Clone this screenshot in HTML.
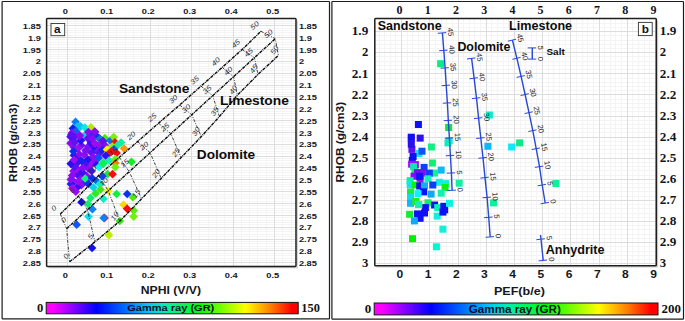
<!DOCTYPE html>
<html><head><meta charset="utf-8"><title>Crossplots</title>
<style>html,body{margin:0;padding:0;background:#fff}svg{display:block}</style></head>
<body>
<svg width="685" height="321" viewBox="0 0 685 321">
<defs>
<linearGradient id="rb" x1="0" y1="0" x2="1" y2="0"><stop offset="0" stop-color="#ff00ff"/><stop offset="0.025" stop-color="#ff00ff"/><stop offset="0.20" stop-color="#0000ff"/><stop offset="0.40" stop-color="#00c0ff"/><stop offset="0.47" stop-color="#00f0b0"/><stop offset="0.61" stop-color="#00ff00"/><stop offset="0.79" stop-color="#ffff00"/><stop offset="0.89" stop-color="#ff8000"/><stop offset="0.975" stop-color="#ff0000"/><stop offset="1" stop-color="#ff0000"/></linearGradient>
</defs>
<rect x="0" y="0" width="685" height="321" fill="#ffffff"/>
<rect x="2.1" y="1.5" width="327.4" height="317.3" rx="0.6" fill="#fff" stroke="#1c1c1c" stroke-width="1.2"/>
<rect x="331.9" y="1.5" width="351.6" height="317.7" rx="0.6" fill="#fff" stroke="#1c1c1c" stroke-width="1.2"/>
<rect x="46.6" y="18.5" width="249.4" height="247.89999999999998" fill="#ffffff"/>
<path d="M50.45 18.5V266.4M58.75 18.5V266.4M75.35 18.5V266.4M83.65 18.5V266.4M91.95 18.5V266.4M100.25 18.5V266.4M116.85 18.5V266.4M125.15 18.5V266.4M133.45 18.5V266.4M141.75 18.5V266.4M158.35 18.5V266.4M166.65 18.5V266.4M174.95 18.5V266.4M183.25 18.5V266.4M199.85 18.5V266.4M208.15 18.5V266.4M216.45 18.5V266.4M224.75 18.5V266.4M241.35 18.5V266.4M249.65 18.5V266.4M257.95 18.5V266.4M266.25 18.5V266.4M282.85 18.5V266.4M291.15 18.5V266.4M46.6 18.64H296.0M46.6 21.01H296.0M46.6 23.38H296.0M46.6 28.12H296.0M46.6 30.49H296.0M46.6 32.86H296.0M46.6 35.23H296.0M46.6 39.97H296.0M46.6 42.34H296.0M46.6 44.71H296.0M46.6 47.08H296.0M46.6 51.82H296.0M46.6 54.19H296.0M46.6 56.56H296.0M46.6 58.93H296.0M46.6 63.67H296.0M46.6 66.04H296.0M46.6 68.41H296.0M46.6 70.78H296.0M46.6 75.52H296.0M46.6 77.89H296.0M46.6 80.26H296.0M46.6 82.63H296.0M46.6 87.37H296.0M46.6 89.74H296.0M46.6 92.11H296.0M46.6 94.48H296.0M46.6 99.22H296.0M46.6 101.59H296.0M46.6 103.96H296.0M46.6 106.33H296.0M46.6 111.07H296.0M46.6 113.44H296.0M46.6 115.81H296.0M46.6 118.18H296.0M46.6 122.92H296.0M46.6 125.29H296.0M46.6 127.66H296.0M46.6 130.03H296.0M46.6 134.77H296.0M46.6 137.14H296.0M46.6 139.51H296.0M46.6 141.88H296.0M46.6 146.62H296.0M46.6 148.99H296.0M46.6 151.36H296.0M46.6 153.73H296.0M46.6 158.47H296.0M46.6 160.84H296.0M46.6 163.21H296.0M46.6 165.58H296.0M46.6 170.32H296.0M46.6 172.69H296.0M46.6 175.06H296.0M46.6 177.43H296.0M46.6 182.17H296.0M46.6 184.54H296.0M46.6 186.91H296.0M46.6 189.28H296.0M46.6 194.02H296.0M46.6 196.39H296.0M46.6 198.76H296.0M46.6 201.13H296.0M46.6 205.87H296.0M46.6 208.24H296.0M46.6 210.61H296.0M46.6 212.98H296.0M46.6 217.72H296.0M46.6 220.09H296.0M46.6 222.46H296.0M46.6 224.83H296.0M46.6 229.57H296.0M46.6 231.94H296.0M46.6 234.31H296.0M46.6 236.68H296.0M46.6 241.42H296.0M46.6 243.79H296.0M46.6 246.16H296.0M46.6 248.53H296.0M46.6 253.27H296.0M46.6 255.64H296.0M46.6 258.01H296.0M46.6 260.38H296.0M46.6 265.12H296.0" stroke="#f4f4f4" stroke-width="1" fill="none" shape-rendering="crispEdges"/>
<path d="M67.05 18.5V266.4M108.55 18.5V266.4M150.05 18.5V266.4M191.55 18.5V266.4M233.05 18.5V266.4M274.55 18.5V266.4M46.6 25.75H296.0M46.6 37.60H296.0M46.6 49.45H296.0M46.6 61.30H296.0M46.6 73.15H296.0M46.6 85.00H296.0M46.6 96.85H296.0M46.6 108.70H296.0M46.6 120.55H296.0M46.6 132.40H296.0M46.6 144.25H296.0M46.6 156.10H296.0M46.6 167.95H296.0M46.6 179.80H296.0M46.6 191.65H296.0M46.6 203.50H296.0M46.6 215.35H296.0M46.6 227.20H296.0M46.6 239.05H296.0M46.6 250.90H296.0M46.6 262.75H296.0" stroke="#dddddd" stroke-width="1" fill="none" shape-rendering="crispEdges"/>
<g>
<path d="M75.6 117.6L79.9 121.9L75.6 126.2L71.2 121.9Z" fill="#0a7ef0"/>
<path d="M77.6 121.9L81.9 126.2L77.6 130.6L73.2 126.2Z" fill="#0cc0f4"/>
<path d="M80.6 122.1L84.9 126.4L80.6 130.8L76.2 126.4Z" fill="#0cc0f4"/>
<path d="M84.9 123.2L89.2 127.6L84.9 131.9L80.6 127.6Z" fill="#0ce8e0"/>
<path d="M72.9 124.1L77.2 128.4L72.9 132.8L68.6 128.4Z" fill="#0c20f0"/>
<path d="M76.0 126.7L80.3 131.0L76.0 135.3L71.7 131.0Z" fill="#1060f0"/>
<path d="M72.5 133.2L76.8 137.6L72.5 141.9L68.2 137.6Z" fill="#0c40f0"/>
<path d="M90.9 123.0L95.2 127.3L90.9 131.7L86.6 127.3Z" fill="#b4e80c"/>
<path d="M78.0 137.7L82.3 142.0L78.0 146.3L73.7 142.0Z" fill="#0cc8f0"/>
<path d="M84.0 131.7L88.3 136.0L84.0 140.3L79.7 136.0Z" fill="#0cd0f0"/>
<path d="M86.0 145.7L90.3 150.0L86.0 154.3L81.7 150.0Z" fill="#0c60f0"/>
<path d="M76.0 155.7L80.3 160.0L76.0 164.3L71.7 160.0Z" fill="#0c90f0"/>
<path d="M90.0 155.7L94.3 160.0L90.0 164.3L85.7 160.0Z" fill="#0c30f0"/>
<path d="M82.0 165.7L86.3 170.0L82.0 174.3L77.7 170.0Z" fill="#0cf0a0"/>
<path d="M95.0 145.7L99.3 150.0L95.0 154.3L90.7 150.0Z" fill="#0c50f0"/>
<path d="M100.0 143.7L104.3 148.0L100.0 152.3L95.7 148.0Z" fill="#0c70f0"/>
<path d="M84.0 177.7L88.3 182.0L84.0 186.3L79.7 182.0Z" fill="#0c40f0"/>
<path d="M79.0 171.7L83.3 176.0L79.0 180.3L74.7 176.0Z" fill="#0cc0f0"/>
<path d="M97.8 144.3L102.2 148.7L97.8 153.0L93.5 148.7Z" fill="#7a10f0"/>
<path d="M77.5 170.5L81.9 174.8L77.5 179.2L73.2 174.8Z" fill="#4a10f0"/>
<path d="M73.8 142.7L78.1 147.1L73.8 151.4L69.4 147.1Z" fill="#8a0cf0"/>
<path d="M99.3 149.1L103.6 153.5L99.3 157.8L94.9 153.5Z" fill="#5a10f0"/>
<path d="M70.6 138.8L74.9 143.2L70.6 147.5L66.2 143.2Z" fill="#8a0cf0"/>
<path d="M94.2 156.4L98.6 160.7L94.2 165.1L89.9 160.7Z" fill="#8a0cf0"/>
<path d="M88.2 164.0L92.5 168.3L88.2 172.7L83.8 168.3Z" fill="#8a0cf0"/>
<path d="M81.3 180.9L85.7 185.3L81.3 189.6L77.0 185.3Z" fill="#8a0cf0"/>
<path d="M81.2 141.0L85.5 145.4L81.2 149.7L76.8 145.4Z" fill="#6a10f0"/>
<path d="M73.5 166.7L77.8 171.0L73.5 175.4L69.1 171.0Z" fill="#a00cf0"/>
<path d="M74.3 177.4L78.7 181.7L74.3 186.1L70.0 181.7Z" fill="#9a0cf0"/>
<path d="M70.9 179.6L75.3 184.0L70.9 188.3L66.6 184.0Z" fill="#1a20f0"/>
<path d="M94.9 127.8L99.3 132.1L94.9 136.5L90.6 132.1Z" fill="#7a10f0"/>
<path d="M77.2 183.1L81.5 187.5L77.2 191.8L72.8 187.5Z" fill="#3a10f0"/>
<path d="M70.6 132.4L74.9 136.7L70.6 141.1L66.2 136.7Z" fill="#4a10f0"/>
<path d="M91.6 166.8L96.0 171.1L91.6 175.5L87.3 171.1Z" fill="#4a10f0"/>
<path d="M88.0 155.3L92.3 159.6L88.0 164.0L83.6 159.6Z" fill="#2a10f0"/>
<path d="M77.9 154.3L82.3 158.6L77.9 163.0L73.6 158.6Z" fill="#4a10f0"/>
<path d="M93.3 142.8L97.6 147.1L93.3 151.5L88.9 147.1Z" fill="#2a10f0"/>
<path d="M86.5 171.5L90.9 175.8L86.5 180.2L82.2 175.8Z" fill="#8a0cf0"/>
<path d="M73.9 150.9L78.3 155.3L73.9 159.6L69.6 155.3Z" fill="#2a10f0"/>
<path d="M99.6 134.2L103.9 138.5L99.6 142.9L95.2 138.5Z" fill="#6a10f0"/>
<path d="M91.9 159.9L96.3 164.3L91.9 168.6L87.6 164.3Z" fill="#a00cf0"/>
<path d="M91.5 148.3L95.8 152.6L91.5 157.0L87.1 152.6Z" fill="#5a10f0"/>
<path d="M78.2 144.0L82.6 148.3L78.2 152.7L73.9 148.3Z" fill="#a00cf0"/>
<path d="M78.0 165.3L82.4 169.6L78.0 174.0L73.7 169.6Z" fill="#a00cf0"/>
<path d="M96.5 131.5L100.9 135.9L96.5 140.2L92.2 135.9Z" fill="#0c30f0"/>
<path d="M77.7 158.4L82.0 162.8L77.7 167.1L73.3 162.8Z" fill="#4a10f0"/>
<path d="M79.7 130.9L84.1 135.3L79.7 139.6L75.4 135.3Z" fill="#a00cf0"/>
<path d="M88.5 142.1L92.8 146.5L88.5 150.8L84.1 146.5Z" fill="#8a0cf0"/>
<path d="M71.9 128.6L76.3 133.0L71.9 137.3L67.6 133.0Z" fill="#9a0cf0"/>
<path d="M99.6 140.2L103.9 144.6L99.6 148.9L95.2 144.6Z" fill="#9a0cf0"/>
<path d="M81.0 136.1L85.3 140.4L81.0 144.8L76.6 140.4Z" fill="#2a10f0"/>
<path d="M86.2 176.8L90.6 181.2L86.2 185.5L81.9 181.2Z" fill="#2a10f0"/>
<path d="M74.6 137.8L78.9 142.2L74.6 146.5L70.2 142.2Z" fill="#6a10f0"/>
<path d="M96.7 160.4L101.0 164.7L96.7 169.1L92.3 164.7Z" fill="#2a10f0"/>
<path d="M79.4 149.9L83.7 154.3L79.4 158.6L75.0 154.3Z" fill="#8a0cf0"/>
<path d="M90.6 129.9L94.9 134.3L90.6 138.6L86.2 134.3Z" fill="#0c30f0"/>
<path d="M70.8 175.1L75.2 179.5L70.8 183.8L66.5 179.5Z" fill="#8a0cf0"/>
<path d="M84.4 150.4L88.7 154.8L84.4 159.1L80.0 154.8Z" fill="#8a0cf0"/>
<path d="M74.4 162.5L78.7 166.9L74.4 171.2L70.0 166.9Z" fill="#5a10f0"/>
<path d="M72.1 171.2L76.5 175.6L72.1 179.9L67.8 175.6Z" fill="#8a0cf0"/>
<path d="M75.8 187.4L80.1 191.8L75.8 196.1L71.4 191.8Z" fill="#9a0cf0"/>
<path d="M70.8 159.3L75.1 163.7L70.8 168.0L66.4 163.7Z" fill="#2a10f0"/>
<path d="M74.1 155.4L78.4 159.7L74.1 164.1L69.7 159.7Z" fill="#a00cf0"/>
<path d="M87.9 134.1L92.2 138.4L87.9 142.8L83.5 138.4Z" fill="#6a10f0"/>
<path d="M103.7 136.4L108.1 140.8L103.7 145.1L99.4 140.8Z" fill="#0c30f0"/>
<path d="M85.8 146.3L90.1 150.7L85.8 155.0L81.4 150.7Z" fill="#7a10f0"/>
<path d="M90.8 138.7L95.2 143.1L90.8 147.4L86.5 143.1Z" fill="#3a10f0"/>
<path d="M97.2 153.3L101.5 157.6L97.2 162.0L92.8 157.6Z" fill="#a00cf0"/>
<path d="M95.1 139.2L99.4 143.5L95.1 147.9L90.7 143.5Z" fill="#a00cf0"/>
<path d="M82.4 173.3L86.7 177.6L82.4 182.0L78.0 177.6Z" fill="#8a0cf0"/>
<path d="M84.9 159.7L89.3 164.0L84.9 168.4L80.6 164.0Z" fill="#4a10f0"/>
<path d="M104.8 140.8L109.1 145.2L104.8 149.5L100.4 145.2Z" fill="#8a0cf0"/>
<path d="M102.4 145.6L106.7 150.0L102.4 154.3L98.0 150.0Z" fill="#1a20f0"/>
<path d="M72.4 184.0L76.7 188.3L72.4 192.7L68.0 188.3Z" fill="#a00cf0"/>
<path d="M82.2 167.8L86.5 172.2L82.2 176.5L77.8 172.2Z" fill="#3a10f0"/>
<path d="M82.8 163.4L87.1 167.8L82.8 172.1L78.4 167.8Z" fill="#8a0cf0"/>
<path d="M81.7 156.6L86.1 161.0L81.7 165.3L77.4 161.0Z" fill="#1a20f0"/>
<path d="M74.6 132.7L78.9 137.0L74.6 141.4L70.2 137.0Z" fill="#5a10f0"/>
<path d="M91.9 134.0L96.3 138.3L91.9 142.7L87.6 138.3Z" fill="#8a0cf0"/>
<path d="M73.4 146.9L77.7 151.3L73.4 155.6L69.0 151.3Z" fill="#0c30f0"/>
<path d="M92.9 152.5L97.3 156.8L92.9 161.2L88.6 156.8Z" fill="#8a0cf0"/>
<path d="M78.4 176.9L82.7 181.3L78.4 185.6L74.0 181.3Z" fill="#9a0cf0"/>
<path d="M88.3 127.7L92.6 132.0L88.3 136.3L84.0 132.0Z" fill="#8a0cf0"/>
<path d="M94.8 127.2L99.1 131.6L94.8 135.9L90.5 131.6Z" fill="#8a0cf0"/>
<path d="M71.2 130.7L75.5 135.0L71.2 139.3L66.9 135.0Z" fill="#5a10f0"/>
<path d="M79.5 131.6L83.8 135.9L79.5 140.2L75.2 135.9Z" fill="#8a0cf0"/>
<path d="M92.2 134.2L96.5 138.5L92.2 142.8L87.9 138.5Z" fill="#8a0cf0"/>
<path d="M99.7 134.7L104.0 139.0L99.7 143.3L95.4 139.0Z" fill="#1070f0"/>
<path d="M104.9 133.8L109.2 138.2L104.9 142.5L100.6 138.2Z" fill="#40e80c"/>
<path d="M102.8 136.5L107.1 140.8L102.8 145.2L98.5 140.8Z" fill="#6a0cf0"/>
<path d="M110.3 136.2L114.6 140.6L110.3 144.9L106.0 140.6Z" fill="#0c70f0"/>
<path d="M113.7 132.8L118.0 137.1L113.7 141.4L109.4 137.1Z" fill="#78f00c"/>
<path d="M115.0 138.1L119.3 142.4L115.0 146.8L110.7 142.4Z" fill="#f80c10"/>
<path d="M121.0 138.2L125.3 142.6L121.0 146.9L116.7 142.6Z" fill="#10f0a0"/>
<path d="M117.5 141.0L121.8 145.3L117.5 149.7L113.2 145.3Z" fill="#10f0a0"/>
<path d="M124.1 144.2L128.4 148.6L124.1 152.9L119.8 148.6Z" fill="#f8980c"/>
<path d="M112.3 142.2L116.6 146.6L112.3 150.9L108.0 146.6Z" fill="#90f00c"/>
<path d="M107.0 145.2L111.3 149.6L107.0 153.9L102.7 149.6Z" fill="#f0f00c"/>
<path d="M114.0 144.8L118.3 149.2L114.0 153.5L109.7 149.2Z" fill="#0c60f0"/>
<path d="M111.4 147.1L115.8 151.4L111.4 155.8L107.1 151.4Z" fill="#f80c10"/>
<path d="M116.6 148.7L120.9 153.0L116.6 157.3L112.2 153.0Z" fill="#f80c10"/>
<path d="M109.6 148.5L113.9 152.8L109.6 157.2L105.2 152.8Z" fill="#f80c10"/>
<path d="M105.7 151.3L110.0 155.7L105.7 160.0L101.4 155.7Z" fill="#3010f0"/>
<path d="M98.7 153.6L103.0 157.9L98.7 162.2L94.4 157.9Z" fill="#0c50f0"/>
<path d="M103.5 158.0L107.8 162.3L103.5 166.7L99.2 162.3Z" fill="#0cf080"/>
<path d="M109.2 156.2L113.5 160.5L109.2 164.8L104.9 160.5Z" fill="#10f0b0"/>
<path d="M115.3 154.8L119.6 159.2L115.3 163.5L111.0 159.2Z" fill="#70f010"/>
<path d="M115.3 158.8L119.6 163.1L115.3 167.4L111.0 163.1Z" fill="#f8780c"/>
<path d="M115.3 162.8L119.6 167.2L115.3 171.5L111.0 167.2Z" fill="#70f010"/>
<path d="M99.1 162.8L103.4 167.1L99.1 171.4L94.8 167.1Z" fill="#0cf0f0"/>
<path d="M103.2 159.5L107.5 163.8L103.2 168.2L98.9 163.8Z" fill="#0cf050"/>
<path d="M131.5 157.5L135.8 161.8L131.5 166.2L127.2 161.8Z" fill="#10f020"/>
<path d="M107.5 169.8L111.8 174.1L107.5 178.4L103.2 174.1Z" fill="#10f030"/>
<path d="M112.6 169.8L116.9 174.2L112.6 178.5L108.2 174.2Z" fill="#f80c10"/>
<path d="M102.4 171.8L106.8 176.2L102.4 180.5L98.1 176.2Z" fill="#0c40f0"/>
<path d="M85.2 174.2L89.5 178.6L85.2 182.9L80.9 178.6Z" fill="#0cf080"/>
<path d="M88.3 179.6L92.6 183.9L88.3 188.2L84.0 183.9Z" fill="#0c30f0"/>
<path d="M93.5 183.1L97.8 187.4L93.5 191.8L89.2 187.4Z" fill="#0cd0f0"/>
<path d="M96.5 176.7L100.8 181.0L96.5 185.3L92.2 181.0Z" fill="#0c60f0"/>
<path d="M92.0 173.7L96.3 178.0L92.0 182.3L87.7 178.0Z" fill="#0c30f0"/>
<path d="M99.7 179.6L104.0 183.9L99.7 188.2L95.4 183.9Z" fill="#0cf0c0"/>
<path d="M95.6 189.2L99.9 193.5L95.6 197.8L91.2 193.5Z" fill="#30e820"/>
<path d="M100.5 185.2L104.8 189.5L100.5 193.8L96.2 189.5Z" fill="#40e810"/>
<path d="M90.4 193.6L94.8 197.9L90.4 202.2L86.1 197.9Z" fill="#0cf070"/>
<path d="M103.5 194.5L107.8 198.8L103.5 203.2L99.2 198.8Z" fill="#0cf0c0"/>
<path d="M108.3 186.6L112.6 190.9L108.3 195.2L104.0 190.9Z" fill="#f0f00c"/>
<path d="M116.6 189.7L120.9 194.0L116.6 198.3L112.2 194.0Z" fill="#10f040"/>
<path d="M127.2 189.7L131.6 194.0L127.2 198.3L122.9 194.0Z" fill="#0c30f8"/>
<path d="M132.8 192.8L137.2 197.2L132.8 201.5L128.5 197.2Z" fill="#50e810"/>
<path d="M81.5 197.8L85.8 202.2L81.5 206.5L77.2 202.2Z" fill="#1010e0"/>
<path d="M92.4 204.8L96.8 209.2L92.4 213.5L88.1 209.2Z" fill="#1080f8"/>
<path d="M88.0 199.7L92.3 204.0L88.0 208.3L83.7 204.0Z" fill="#10e870"/>
<path d="M123.6 200.5L127.9 204.8L123.6 209.2L119.2 204.8Z" fill="#f8d80c"/>
<path d="M127.1 204.3L131.4 208.7L127.1 213.0L122.8 208.7Z" fill="#f80c10"/>
<path d="M133.7 206.1L138.0 210.4L133.7 214.8L129.3 210.4Z" fill="#50f010"/>
<path d="M133.7 212.2L138.0 216.6L133.7 220.9L129.3 216.6Z" fill="#70f00c"/>
<path d="M119.8 216.7L124.1 221.0L119.8 225.3L115.5 221.0Z" fill="#30f010"/>
<path d="M104.6 213.6L108.9 217.9L104.6 222.2L100.2 217.9Z" fill="#f81030"/>
<path d="M103.7 213.6L108.0 217.9L103.7 222.2L99.4 217.9Z" fill="#1080f8"/>
<path d="M88.5 212.2L92.8 216.6L88.5 220.9L84.2 216.6Z" fill="#10e0f0"/>
<path d="M76.7 220.3L81.0 224.7L76.7 229.0L72.4 224.7Z" fill="#1055f8"/>
<path d="M108.9 230.8L113.2 235.1L108.9 239.4L104.6 235.1Z" fill="#b8f000"/>
<path d="M92.1 243.7L96.4 248.0L92.1 252.3L87.8 248.0Z" fill="#1010f0"/>
</g>
<path d="M60.3 214.0L78.5 196.2L98.5 175.5L119.3 157.3L137.6 141.6L158.5 123.2L179.7 105.0L201.0 86.1L222.2 67.4L242.1 49.5L261.0 31.3" fill="none" stroke="#0a0a0a" stroke-width="1.4" stroke-dasharray="3.2 0.8 1 0.8"/>
<path d="M66.6 228.7L87.5 209.7L108.3 190.7L129.2 171.7L150.1 152.7L170.9 133.7L191.8 114.7L212.7 95.7L233.6 76.7L254.4 57.7L275.3 38.7" fill="none" stroke="#0a0a0a" stroke-width="1.4" stroke-dasharray="3.2 0.8 1 0.8"/>
<path d="M69.6 261.8L94.9 241.9L119.7 221.2L141.6 198.8L161.2 178.4L181.1 157.6L201.3 136.6L219.4 116.6L237.3 95.3L258.0 74.4L278.4 55.4" fill="none" stroke="#0a0a0a" stroke-width="1.4" stroke-dasharray="3.2 0.8 1 0.8"/>
<path d="M60.3 214.0L66.6 228.7L69.6 261.8M78.5 196.2L87.5 209.7L94.9 241.9M98.5 175.5L108.3 190.7L119.7 221.2M119.3 157.3L129.2 171.7L141.6 198.8M137.6 141.6L150.1 152.7L161.2 178.4M158.5 123.2L170.9 133.7L181.1 157.6M179.7 105.0L191.8 114.7L201.3 136.6M201.0 86.1L212.7 95.7L219.4 116.6M222.2 67.4L233.6 76.7L237.3 95.3M242.1 49.5L254.4 57.7L258.0 74.4M261.0 31.3L275.3 38.7L278.4 55.4" fill="none" stroke="#111" stroke-width="0.8" stroke-dasharray="3 1.4 1 1.4"/>
<text transform="translate(53.8 208.1) rotate(-42)" font-family='"Liberation Sans", sans-serif' font-size="7.0" font-style="italic" text-anchor="middle" dominant-baseline="central" fill="#303036" textLength="4.5" lengthAdjust="spacingAndGlyphs">0</text>
<text transform="translate(63.6 220.0) rotate(-42)" font-family='"Liberation Sans", sans-serif' font-size="7.0" font-style="italic" text-anchor="middle" dominant-baseline="central" fill="#303036" textLength="4.5" lengthAdjust="spacingAndGlyphs">0</text>
<text transform="translate(66.0 256.2) rotate(-57)" font-family='"Liberation Sans", sans-serif' font-size="7.0" font-style="italic" text-anchor="middle" dominant-baseline="central" fill="#303036" textLength="4.5" lengthAdjust="spacingAndGlyphs">0</text>
<text transform="translate(72.0 190.3) rotate(-42)" font-family='"Liberation Sans", sans-serif' font-size="7.0" font-style="italic" text-anchor="middle" dominant-baseline="central" fill="#303036" textLength="4.5" lengthAdjust="spacingAndGlyphs">5</text>
<text transform="translate(83.2 201.6) rotate(-42)" font-family='"Liberation Sans", sans-serif' font-size="7.0" font-style="italic" text-anchor="middle" dominant-baseline="central" fill="#303036" textLength="4.5" lengthAdjust="spacingAndGlyphs">5</text>
<text transform="translate(90.5 236.4) rotate(-57)" font-family='"Liberation Sans", sans-serif' font-size="7.0" font-style="italic" text-anchor="middle" dominant-baseline="central" fill="#303036" textLength="4.5" lengthAdjust="spacingAndGlyphs">5</text>
<text transform="translate(92.0 169.6) rotate(-42)" font-family='"Liberation Sans", sans-serif' font-size="7.0" font-style="italic" text-anchor="middle" dominant-baseline="central" fill="#303036" textLength="9.1" lengthAdjust="spacingAndGlyphs">10</text>
<text transform="translate(103.6 181.8) rotate(-42)" font-family='"Liberation Sans", sans-serif' font-size="7.0" font-style="italic" text-anchor="middle" dominant-baseline="central" fill="#303036" textLength="9.1" lengthAdjust="spacingAndGlyphs">10</text>
<text transform="translate(114.6 216.0) rotate(-57)" font-family='"Liberation Sans", sans-serif' font-size="7.0" font-style="italic" text-anchor="middle" dominant-baseline="central" fill="#303036" textLength="9.1" lengthAdjust="spacingAndGlyphs">10</text>
<text transform="translate(112.8 151.4) rotate(-42)" font-family='"Liberation Sans", sans-serif' font-size="7.0" font-style="italic" text-anchor="middle" dominant-baseline="central" fill="#303036" textLength="9.1" lengthAdjust="spacingAndGlyphs">15</text>
<text transform="translate(124.5 163.2) rotate(-42)" font-family='"Liberation Sans", sans-serif' font-size="7.0" font-style="italic" text-anchor="middle" dominant-baseline="central" fill="#303036" textLength="9.1" lengthAdjust="spacingAndGlyphs">15</text>
<text transform="translate(136.2 193.7) rotate(-57)" font-family='"Liberation Sans", sans-serif' font-size="7.0" font-style="italic" text-anchor="middle" dominant-baseline="central" fill="#303036" textLength="9.1" lengthAdjust="spacingAndGlyphs">15</text>
<text transform="translate(131.1 135.7) rotate(-42)" font-family='"Liberation Sans", sans-serif' font-size="7.0" font-style="italic" text-anchor="middle" dominant-baseline="central" fill="#303036" textLength="9.1" lengthAdjust="spacingAndGlyphs">20</text>
<text transform="translate(144.0 145.8) rotate(-42)" font-family='"Liberation Sans", sans-serif' font-size="7.0" font-style="italic" text-anchor="middle" dominant-baseline="central" fill="#303036" textLength="9.1" lengthAdjust="spacingAndGlyphs">20</text>
<text transform="translate(155.9 173.3) rotate(-57)" font-family='"Liberation Sans", sans-serif' font-size="7.0" font-style="italic" text-anchor="middle" dominant-baseline="central" fill="#303036" textLength="9.1" lengthAdjust="spacingAndGlyphs">20</text>
<text transform="translate(152.0 117.3) rotate(-42)" font-family='"Liberation Sans", sans-serif' font-size="7.0" font-style="italic" text-anchor="middle" dominant-baseline="central" fill="#303036" textLength="9.1" lengthAdjust="spacingAndGlyphs">25</text>
<text transform="translate(164.9 127.1) rotate(-42)" font-family='"Liberation Sans", sans-serif' font-size="7.0" font-style="italic" text-anchor="middle" dominant-baseline="central" fill="#303036" textLength="9.1" lengthAdjust="spacingAndGlyphs">25</text>
<text transform="translate(175.8 152.4) rotate(-57)" font-family='"Liberation Sans", sans-serif' font-size="7.0" font-style="italic" text-anchor="middle" dominant-baseline="central" fill="#303036" textLength="9.1" lengthAdjust="spacingAndGlyphs">25</text>
<text transform="translate(173.2 99.1) rotate(-42)" font-family='"Liberation Sans", sans-serif' font-size="7.0" font-style="italic" text-anchor="middle" dominant-baseline="central" fill="#303036" textLength="9.1" lengthAdjust="spacingAndGlyphs">30</text>
<text transform="translate(186.0 108.5) rotate(-42)" font-family='"Liberation Sans", sans-serif' font-size="7.0" font-style="italic" text-anchor="middle" dominant-baseline="central" fill="#303036" textLength="9.1" lengthAdjust="spacingAndGlyphs">30</text>
<text transform="translate(196.0 131.5) rotate(-57)" font-family='"Liberation Sans", sans-serif' font-size="7.0" font-style="italic" text-anchor="middle" dominant-baseline="central" fill="#303036" textLength="9.1" lengthAdjust="spacingAndGlyphs">30</text>
<text transform="translate(194.5 80.2) rotate(-42)" font-family='"Liberation Sans", sans-serif' font-size="7.0" font-style="italic" text-anchor="middle" dominant-baseline="central" fill="#303036" textLength="9.1" lengthAdjust="spacingAndGlyphs">35</text>
<text transform="translate(207.0 89.6) rotate(-42)" font-family='"Liberation Sans", sans-serif' font-size="7.0" font-style="italic" text-anchor="middle" dominant-baseline="central" fill="#303036" textLength="9.1" lengthAdjust="spacingAndGlyphs">35</text>
<text transform="translate(214.6 111.3) rotate(-57)" font-family='"Liberation Sans", sans-serif' font-size="7.0" font-style="italic" text-anchor="middle" dominant-baseline="central" fill="#303036" textLength="9.1" lengthAdjust="spacingAndGlyphs">35</text>
<text transform="translate(215.7 61.5) rotate(-42)" font-family='"Liberation Sans", sans-serif' font-size="7.0" font-style="italic" text-anchor="middle" dominant-baseline="central" fill="#303036" textLength="9.1" lengthAdjust="spacingAndGlyphs">40</text>
<text transform="translate(228.1 70.8) rotate(-42)" font-family='"Liberation Sans", sans-serif' font-size="7.0" font-style="italic" text-anchor="middle" dominant-baseline="central" fill="#303036" textLength="9.1" lengthAdjust="spacingAndGlyphs">40</text>
<text transform="translate(233.1 89.8) rotate(-57)" font-family='"Liberation Sans", sans-serif' font-size="7.0" font-style="italic" text-anchor="middle" dominant-baseline="central" fill="#303036" textLength="9.1" lengthAdjust="spacingAndGlyphs">40</text>
<text transform="translate(235.6 43.6) rotate(-42)" font-family='"Liberation Sans", sans-serif' font-size="7.0" font-style="italic" text-anchor="middle" dominant-baseline="central" fill="#303036" textLength="9.1" lengthAdjust="spacingAndGlyphs">45</text>
<text transform="translate(248.5 52.3) rotate(-42)" font-family='"Liberation Sans", sans-serif' font-size="7.0" font-style="italic" text-anchor="middle" dominant-baseline="central" fill="#303036" textLength="9.1" lengthAdjust="spacingAndGlyphs">45</text>
<text transform="translate(253.7 68.9) rotate(-57)" font-family='"Liberation Sans", sans-serif' font-size="7.0" font-style="italic" text-anchor="middle" dominant-baseline="central" fill="#303036" textLength="9.1" lengthAdjust="spacingAndGlyphs">45</text>
<text transform="translate(254.5 25.4) rotate(-42)" font-family='"Liberation Sans", sans-serif' font-size="7.0" font-style="italic" text-anchor="middle" dominant-baseline="central" fill="#303036" textLength="9.1" lengthAdjust="spacingAndGlyphs">50</text>
<text transform="translate(268.3 33.7) rotate(-42)" font-family='"Liberation Sans", sans-serif' font-size="7.0" font-style="italic" text-anchor="middle" dominant-baseline="central" fill="#303036" textLength="9.1" lengthAdjust="spacingAndGlyphs">50</text>
<text transform="translate(274.3 49.9) rotate(-57)" font-family='"Liberation Sans", sans-serif' font-size="7.0" font-style="italic" text-anchor="middle" dominant-baseline="central" fill="#303036" textLength="9.1" lengthAdjust="spacingAndGlyphs">50</text>
<text x="118.90" y="92.50" font-family='"Liberation Sans", sans-serif' font-size="13.6" font-weight="bold" text-anchor="start" fill="#0c0c0c" textLength="70.60" lengthAdjust="spacingAndGlyphs">Sandstone</text>
<text x="219.90" y="105.10" font-family='"Liberation Sans", sans-serif' font-size="13.6" font-weight="bold" text-anchor="start" fill="#0c0c0c" textLength="69.00" lengthAdjust="spacingAndGlyphs">Limestone</text>
<text x="196.80" y="159.30" font-family='"Liberation Sans", sans-serif' font-size="13.6" font-weight="bold" text-anchor="start" fill="#0c0c0c" textLength="58.40" lengthAdjust="spacingAndGlyphs">Dolomite</text>
<path d="M297.3 20.5V267.7H48.6" fill="none" stroke="#d0d0d0" stroke-width="1.2"/>
<rect x="46.6" y="18.5" width="249.4" height="247.89999999999998" rx="0.8" fill="none" stroke="#1e1e1e" stroke-width="1.5"/>
<rect x="51" y="23.5" width="13.7" height="12.2" fill="#fff" stroke="#333" stroke-width="0.9"/>
<text x="57.30" y="32.80" font-family='"Liberation Sans", sans-serif' font-size="11.8" font-weight="bold" text-anchor="middle" fill="#111">a</text>
<text x="62.67" y="14.40" font-family='"Liberation Sans", sans-serif' font-size="8.0" font-weight="bold" text-anchor="start" fill="#16161e" textLength="5.15" lengthAdjust="spacingAndGlyphs">0</text>
<text x="62.67" y="277.90" font-family='"Liberation Sans", sans-serif' font-size="8.0" font-weight="bold" text-anchor="start" fill="#16161e" textLength="5.15" lengthAdjust="spacingAndGlyphs">0</text>
<text x="100.30" y="14.40" font-family='"Liberation Sans", sans-serif' font-size="8.0" font-weight="bold" text-anchor="start" fill="#16161e" textLength="12.90" lengthAdjust="spacingAndGlyphs">0.1</text>
<text x="100.30" y="277.90" font-family='"Liberation Sans", sans-serif' font-size="8.0" font-weight="bold" text-anchor="start" fill="#16161e" textLength="12.90" lengthAdjust="spacingAndGlyphs">0.1</text>
<text x="141.80" y="14.40" font-family='"Liberation Sans", sans-serif' font-size="8.0" font-weight="bold" text-anchor="start" fill="#16161e" textLength="12.90" lengthAdjust="spacingAndGlyphs">0.2</text>
<text x="141.80" y="277.90" font-family='"Liberation Sans", sans-serif' font-size="8.0" font-weight="bold" text-anchor="start" fill="#16161e" textLength="12.90" lengthAdjust="spacingAndGlyphs">0.2</text>
<text x="183.30" y="14.40" font-family='"Liberation Sans", sans-serif' font-size="8.0" font-weight="bold" text-anchor="start" fill="#16161e" textLength="12.90" lengthAdjust="spacingAndGlyphs">0.3</text>
<text x="183.30" y="277.90" font-family='"Liberation Sans", sans-serif' font-size="8.0" font-weight="bold" text-anchor="start" fill="#16161e" textLength="12.90" lengthAdjust="spacingAndGlyphs">0.3</text>
<text x="224.80" y="14.40" font-family='"Liberation Sans", sans-serif' font-size="8.0" font-weight="bold" text-anchor="start" fill="#16161e" textLength="12.90" lengthAdjust="spacingAndGlyphs">0.4</text>
<text x="224.80" y="277.90" font-family='"Liberation Sans", sans-serif' font-size="8.0" font-weight="bold" text-anchor="start" fill="#16161e" textLength="12.90" lengthAdjust="spacingAndGlyphs">0.4</text>
<text x="266.30" y="14.40" font-family='"Liberation Sans", sans-serif' font-size="8.0" font-weight="bold" text-anchor="start" fill="#16161e" textLength="12.90" lengthAdjust="spacingAndGlyphs">0.5</text>
<text x="266.30" y="277.90" font-family='"Liberation Sans", sans-serif' font-size="8.0" font-weight="bold" text-anchor="start" fill="#16161e" textLength="12.90" lengthAdjust="spacingAndGlyphs">0.5</text>
<text x="22.85" y="28.90" font-family='"Liberation Sans", sans-serif' font-size="8.0" font-weight="bold" text-anchor="start" fill="#16161e" textLength="18.05" lengthAdjust="spacingAndGlyphs">1.85</text>
<text x="298.90" y="28.90" font-family='"Liberation Sans", sans-serif' font-size="8.0" font-weight="bold" text-anchor="start" fill="#16161e" textLength="18.05" lengthAdjust="spacingAndGlyphs">1.85</text>
<text x="28.00" y="40.75" font-family='"Liberation Sans", sans-serif' font-size="8.0" font-weight="bold" text-anchor="start" fill="#16161e" textLength="12.90" lengthAdjust="spacingAndGlyphs">1.9</text>
<text x="298.90" y="40.75" font-family='"Liberation Sans", sans-serif' font-size="8.0" font-weight="bold" text-anchor="start" fill="#16161e" textLength="12.90" lengthAdjust="spacingAndGlyphs">1.9</text>
<text x="22.85" y="52.60" font-family='"Liberation Sans", sans-serif' font-size="8.0" font-weight="bold" text-anchor="start" fill="#16161e" textLength="18.05" lengthAdjust="spacingAndGlyphs">1.95</text>
<text x="298.90" y="52.60" font-family='"Liberation Sans", sans-serif' font-size="8.0" font-weight="bold" text-anchor="start" fill="#16161e" textLength="18.05" lengthAdjust="spacingAndGlyphs">1.95</text>
<text x="35.75" y="64.45" font-family='"Liberation Sans", sans-serif' font-size="8.0" font-weight="bold" text-anchor="start" fill="#16161e" textLength="5.15" lengthAdjust="spacingAndGlyphs">2</text>
<text x="298.90" y="64.45" font-family='"Liberation Sans", sans-serif' font-size="8.0" font-weight="bold" text-anchor="start" fill="#16161e" textLength="5.15" lengthAdjust="spacingAndGlyphs">2</text>
<text x="22.85" y="76.30" font-family='"Liberation Sans", sans-serif' font-size="8.0" font-weight="bold" text-anchor="start" fill="#16161e" textLength="18.05" lengthAdjust="spacingAndGlyphs">2.05</text>
<text x="298.90" y="76.30" font-family='"Liberation Sans", sans-serif' font-size="8.0" font-weight="bold" text-anchor="start" fill="#16161e" textLength="18.05" lengthAdjust="spacingAndGlyphs">2.05</text>
<text x="28.00" y="88.15" font-family='"Liberation Sans", sans-serif' font-size="8.0" font-weight="bold" text-anchor="start" fill="#16161e" textLength="12.90" lengthAdjust="spacingAndGlyphs">2.1</text>
<text x="298.90" y="88.15" font-family='"Liberation Sans", sans-serif' font-size="8.0" font-weight="bold" text-anchor="start" fill="#16161e" textLength="12.90" lengthAdjust="spacingAndGlyphs">2.1</text>
<text x="22.85" y="100.00" font-family='"Liberation Sans", sans-serif' font-size="8.0" font-weight="bold" text-anchor="start" fill="#16161e" textLength="18.05" lengthAdjust="spacingAndGlyphs">2.15</text>
<text x="298.90" y="100.00" font-family='"Liberation Sans", sans-serif' font-size="8.0" font-weight="bold" text-anchor="start" fill="#16161e" textLength="18.05" lengthAdjust="spacingAndGlyphs">2.15</text>
<text x="28.00" y="111.85" font-family='"Liberation Sans", sans-serif' font-size="8.0" font-weight="bold" text-anchor="start" fill="#16161e" textLength="12.90" lengthAdjust="spacingAndGlyphs">2.2</text>
<text x="298.90" y="111.85" font-family='"Liberation Sans", sans-serif' font-size="8.0" font-weight="bold" text-anchor="start" fill="#16161e" textLength="12.90" lengthAdjust="spacingAndGlyphs">2.2</text>
<text x="22.85" y="123.70" font-family='"Liberation Sans", sans-serif' font-size="8.0" font-weight="bold" text-anchor="start" fill="#16161e" textLength="18.05" lengthAdjust="spacingAndGlyphs">2.25</text>
<text x="298.90" y="123.70" font-family='"Liberation Sans", sans-serif' font-size="8.0" font-weight="bold" text-anchor="start" fill="#16161e" textLength="18.05" lengthAdjust="spacingAndGlyphs">2.25</text>
<text x="28.00" y="135.55" font-family='"Liberation Sans", sans-serif' font-size="8.0" font-weight="bold" text-anchor="start" fill="#16161e" textLength="12.90" lengthAdjust="spacingAndGlyphs">2.3</text>
<text x="298.90" y="135.55" font-family='"Liberation Sans", sans-serif' font-size="8.0" font-weight="bold" text-anchor="start" fill="#16161e" textLength="12.90" lengthAdjust="spacingAndGlyphs">2.3</text>
<text x="22.85" y="147.40" font-family='"Liberation Sans", sans-serif' font-size="8.0" font-weight="bold" text-anchor="start" fill="#16161e" textLength="18.05" lengthAdjust="spacingAndGlyphs">2.35</text>
<text x="298.90" y="147.40" font-family='"Liberation Sans", sans-serif' font-size="8.0" font-weight="bold" text-anchor="start" fill="#16161e" textLength="18.05" lengthAdjust="spacingAndGlyphs">2.35</text>
<text x="28.00" y="159.25" font-family='"Liberation Sans", sans-serif' font-size="8.0" font-weight="bold" text-anchor="start" fill="#16161e" textLength="12.90" lengthAdjust="spacingAndGlyphs">2.4</text>
<text x="298.90" y="159.25" font-family='"Liberation Sans", sans-serif' font-size="8.0" font-weight="bold" text-anchor="start" fill="#16161e" textLength="12.90" lengthAdjust="spacingAndGlyphs">2.4</text>
<text x="22.85" y="171.10" font-family='"Liberation Sans", sans-serif' font-size="8.0" font-weight="bold" text-anchor="start" fill="#16161e" textLength="18.05" lengthAdjust="spacingAndGlyphs">2.45</text>
<text x="298.90" y="171.10" font-family='"Liberation Sans", sans-serif' font-size="8.0" font-weight="bold" text-anchor="start" fill="#16161e" textLength="18.05" lengthAdjust="spacingAndGlyphs">2.45</text>
<text x="28.00" y="182.95" font-family='"Liberation Sans", sans-serif' font-size="8.0" font-weight="bold" text-anchor="start" fill="#16161e" textLength="12.90" lengthAdjust="spacingAndGlyphs">2.5</text>
<text x="298.90" y="182.95" font-family='"Liberation Sans", sans-serif' font-size="8.0" font-weight="bold" text-anchor="start" fill="#16161e" textLength="12.90" lengthAdjust="spacingAndGlyphs">2.5</text>
<text x="22.85" y="194.80" font-family='"Liberation Sans", sans-serif' font-size="8.0" font-weight="bold" text-anchor="start" fill="#16161e" textLength="18.05" lengthAdjust="spacingAndGlyphs">2.55</text>
<text x="298.90" y="194.80" font-family='"Liberation Sans", sans-serif' font-size="8.0" font-weight="bold" text-anchor="start" fill="#16161e" textLength="18.05" lengthAdjust="spacingAndGlyphs">2.55</text>
<text x="28.00" y="206.65" font-family='"Liberation Sans", sans-serif' font-size="8.0" font-weight="bold" text-anchor="start" fill="#16161e" textLength="12.90" lengthAdjust="spacingAndGlyphs">2.6</text>
<text x="298.90" y="206.65" font-family='"Liberation Sans", sans-serif' font-size="8.0" font-weight="bold" text-anchor="start" fill="#16161e" textLength="12.90" lengthAdjust="spacingAndGlyphs">2.6</text>
<text x="22.85" y="218.50" font-family='"Liberation Sans", sans-serif' font-size="8.0" font-weight="bold" text-anchor="start" fill="#16161e" textLength="18.05" lengthAdjust="spacingAndGlyphs">2.65</text>
<text x="298.90" y="218.50" font-family='"Liberation Sans", sans-serif' font-size="8.0" font-weight="bold" text-anchor="start" fill="#16161e" textLength="18.05" lengthAdjust="spacingAndGlyphs">2.65</text>
<text x="28.00" y="230.35" font-family='"Liberation Sans", sans-serif' font-size="8.0" font-weight="bold" text-anchor="start" fill="#16161e" textLength="12.90" lengthAdjust="spacingAndGlyphs">2.7</text>
<text x="298.90" y="230.35" font-family='"Liberation Sans", sans-serif' font-size="8.0" font-weight="bold" text-anchor="start" fill="#16161e" textLength="12.90" lengthAdjust="spacingAndGlyphs">2.7</text>
<text x="22.85" y="242.20" font-family='"Liberation Sans", sans-serif' font-size="8.0" font-weight="bold" text-anchor="start" fill="#16161e" textLength="18.05" lengthAdjust="spacingAndGlyphs">2.75</text>
<text x="298.90" y="242.20" font-family='"Liberation Sans", sans-serif' font-size="8.0" font-weight="bold" text-anchor="start" fill="#16161e" textLength="18.05" lengthAdjust="spacingAndGlyphs">2.75</text>
<text x="28.00" y="254.05" font-family='"Liberation Sans", sans-serif' font-size="8.0" font-weight="bold" text-anchor="start" fill="#16161e" textLength="12.90" lengthAdjust="spacingAndGlyphs">2.8</text>
<text x="298.90" y="254.05" font-family='"Liberation Sans", sans-serif' font-size="8.0" font-weight="bold" text-anchor="start" fill="#16161e" textLength="12.90" lengthAdjust="spacingAndGlyphs">2.8</text>
<text x="22.85" y="265.90" font-family='"Liberation Sans", sans-serif' font-size="8.0" font-weight="bold" text-anchor="start" fill="#16161e" textLength="18.05" lengthAdjust="spacingAndGlyphs">2.85</text>
<text x="298.90" y="265.90" font-family='"Liberation Sans", sans-serif' font-size="8.0" font-weight="bold" text-anchor="start" fill="#16161e" textLength="18.05" lengthAdjust="spacingAndGlyphs">2.85</text>
<text transform="translate(16.8 142.8) rotate(-90)" font-family='"Liberation Sans", sans-serif' font-size="10.4" font-weight="bold" text-anchor="middle" fill="#16161e" textLength="78.2" lengthAdjust="spacingAndGlyphs">RHOB (g/cm3)</text>
<text x="140.70" y="293.90" font-family='"Liberation Sans", sans-serif' font-size="10.5" font-weight="bold" text-anchor="start" fill="#16161e" textLength="60.30" lengthAdjust="spacingAndGlyphs">NPHI (V/V)</text>
<rect x="46.2" y="302.4" width="252" height="11.4" fill="url(#rb)" stroke="#151515" stroke-width="1"/>
<text x="127.30" y="311.40" font-family='"Liberation Sans", sans-serif' font-size="9.8" font-weight="bold" text-anchor="start" fill="#0a0a2a" textLength="87.00" lengthAdjust="spacingAndGlyphs">Gamma ray (GR)</text>
<text x="37.10" y="311.60" font-family='"Liberation Serif", serif' font-size="11.5" font-weight="bold" text-anchor="start" fill="#111" textLength="6.30" lengthAdjust="spacingAndGlyphs">0</text>
<text x="301.30" y="311.60" font-family='"Liberation Serif", serif' font-size="11.5" font-weight="bold" text-anchor="start" fill="#111" textLength="18.60" lengthAdjust="spacingAndGlyphs">150</text>
<rect x="374.8" y="18.5" width="281.49999999999994" height="247.2" fill="#ffffff"/>
<path d="M379.04 18.5V265.7M384.68 18.5V265.7M390.32 18.5V265.7M395.96 18.5V265.7M407.24 18.5V265.7M412.88 18.5V265.7M418.52 18.5V265.7M424.16 18.5V265.7M435.44 18.5V265.7M441.08 18.5V265.7M446.72 18.5V265.7M452.36 18.5V265.7M463.64 18.5V265.7M469.28 18.5V265.7M474.92 18.5V265.7M480.56 18.5V265.7M491.84 18.5V265.7M497.48 18.5V265.7M503.12 18.5V265.7M508.76 18.5V265.7M520.04 18.5V265.7M525.68 18.5V265.7M531.32 18.5V265.7M536.96 18.5V265.7M548.24 18.5V265.7M553.88 18.5V265.7M559.52 18.5V265.7M565.16 18.5V265.7M576.44 18.5V265.7M582.08 18.5V265.7M587.72 18.5V265.7M593.36 18.5V265.7M604.64 18.5V265.7M610.28 18.5V265.7M615.92 18.5V265.7M621.56 18.5V265.7M632.84 18.5V265.7M638.48 18.5V265.7M644.12 18.5V265.7M649.76 18.5V265.7M374.8 18.94H656.3M374.8 23.16H656.3M374.8 27.38H656.3M374.8 35.82H656.3M374.8 40.04H656.3M374.8 44.26H656.3M374.8 48.48H656.3M374.8 56.92H656.3M374.8 61.14H656.3M374.8 65.36H656.3M374.8 69.58H656.3M374.8 78.02H656.3M374.8 82.24H656.3M374.8 86.46H656.3M374.8 90.68H656.3M374.8 99.12H656.3M374.8 103.34H656.3M374.8 107.56H656.3M374.8 111.78H656.3M374.8 120.22H656.3M374.8 124.44H656.3M374.8 128.66H656.3M374.8 132.88H656.3M374.8 141.32H656.3M374.8 145.54H656.3M374.8 149.76H656.3M374.8 153.98H656.3M374.8 162.42H656.3M374.8 166.64H656.3M374.8 170.86H656.3M374.8 175.08H656.3M374.8 183.52H656.3M374.8 187.74H656.3M374.8 191.96H656.3M374.8 196.18H656.3M374.8 204.62H656.3M374.8 208.84H656.3M374.8 213.06H656.3M374.8 217.28H656.3M374.8 225.72H656.3M374.8 229.94H656.3M374.8 234.16H656.3M374.8 238.38H656.3M374.8 246.82H656.3M374.8 251.04H656.3M374.8 255.26H656.3M374.8 259.48H656.3" stroke="#f4f4f4" stroke-width="1" fill="none" shape-rendering="crispEdges"/>
<path d="M401.60 18.5V265.7M429.80 18.5V265.7M458.00 18.5V265.7M486.20 18.5V265.7M514.40 18.5V265.7M542.60 18.5V265.7M570.80 18.5V265.7M599.00 18.5V265.7M627.20 18.5V265.7M655.40 18.5V265.7M374.8 31.60H656.3M374.8 52.70H656.3M374.8 73.80H656.3M374.8 94.90H656.3M374.8 116.00H656.3M374.8 137.10H656.3M374.8 158.20H656.3M374.8 179.30H656.3M374.8 200.40H656.3M374.8 221.50H656.3M374.8 242.60H656.3M374.8 263.70H656.3" stroke="#dddddd" stroke-width="1" fill="none" shape-rendering="crispEdges"/>
<g>
<rect x="437.1" y="60.2" width="7" height="7" fill="#10e888"/>
<rect x="414.9" y="121.0" width="7" height="7" fill="#1010f8"/>
<rect x="445.1" y="124.0" width="7" height="7" fill="#10e840"/>
<rect x="485.9" y="111.5" width="7" height="7" fill="#10e8c8"/>
<rect x="484.4" y="142.8" width="7" height="7" fill="#10b8f8"/>
<rect x="508.1" y="143.5" width="7" height="7" fill="#10e8f8"/>
<rect x="516.1" y="139.4" width="7" height="7" fill="#10e888"/>
<rect x="552.5" y="180.0" width="7" height="7" fill="#10f098"/>
<rect x="490.0" y="199.4" width="7" height="7" fill="#10f098"/>
<rect x="455.7" y="179.7" width="7" height="7" fill="#10f0a0"/>
<rect x="409.0" y="235.2" width="7" height="7" fill="#00f000"/>
<rect x="432.9" y="243.3" width="7" height="7" fill="#00f8d0"/>
<rect x="439.4" y="225.7" width="7" height="7" fill="#10f0e0"/>
<rect x="407.8" y="134.9" width="7" height="7" fill="#a010f0"/>
<rect x="407.8" y="133.7" width="7" height="7" fill="#1010f0"/>
<rect x="416.7" y="134.6" width="7" height="7" fill="#3010f0"/>
<rect x="408.4" y="145.9" width="7" height="7" fill="#6010f0"/>
<rect x="407.8" y="140.7" width="7" height="7" fill="#2a10f0"/>
<rect x="415.5" y="150.0" width="7" height="7" fill="#10e8f0"/>
<rect x="418.5" y="147.7" width="7" height="7" fill="#1050f8"/>
<rect x="427.9" y="143.5" width="7" height="7" fill="#10f080"/>
<rect x="445.7" y="137.0" width="7" height="7" fill="#10f0e0"/>
<rect x="444.5" y="139.4" width="7" height="7" fill="#10e8c0"/>
<rect x="409.6" y="153.0" width="7" height="7" fill="#1010f0"/>
<rect x="428.9" y="159.5" width="7" height="7" fill="#10f070"/>
<rect x="411.4" y="167.4" width="7" height="7" fill="#10f060"/>
<rect x="408.8" y="156.9" width="7" height="7" fill="#0c10f0"/>
<rect x="408.1" y="160.7" width="7" height="7" fill="#a010f0"/>
<rect x="411.9" y="161.1" width="7" height="7" fill="#a010f0"/>
<rect x="410.1" y="163.1" width="7" height="7" fill="#10e8b0"/>
<rect x="420.6" y="163.9" width="7" height="7" fill="#0c40f8"/>
<rect x="437.7" y="166.6" width="7" height="7" fill="#0cb8f8"/>
<rect x="431.1" y="169.6" width="7" height="7" fill="#10f090"/>
<rect x="425.8" y="169.6" width="7" height="7" fill="#0c40f8"/>
<rect x="416.6" y="172.3" width="7" height="7" fill="#1010f8"/>
<rect x="410.5" y="172.7" width="7" height="7" fill="#8010f0"/>
<rect x="418.9" y="169.7" width="7" height="7" fill="#8010f0"/>
<rect x="414.0" y="169.1" width="7" height="7" fill="#7010f0"/>
<rect x="416.6" y="177.5" width="7" height="7" fill="#9010f0"/>
<rect x="416.1" y="172.9" width="7" height="7" fill="#1010f8"/>
<rect x="424.5" y="175.3" width="7" height="7" fill="#10f0c0"/>
<rect x="435.9" y="178.8" width="7" height="7" fill="#10f0e0"/>
<rect x="442.0" y="180.1" width="7" height="7" fill="#10f0e0"/>
<rect x="406.6" y="177.1" width="7" height="7" fill="#10f0a0"/>
<rect x="406.6" y="181.1" width="7" height="7" fill="#10e8f0"/>
<rect x="411.8" y="181.5" width="7" height="7" fill="#10f010"/>
<rect x="416.2" y="182.5" width="7" height="7" fill="#2010f0"/>
<rect x="421.0" y="182.3" width="7" height="7" fill="#10b0f8"/>
<rect x="429.3" y="181.5" width="7" height="7" fill="#0c40f8"/>
<rect x="441.6" y="184.0" width="7" height="7" fill="#10f010"/>
<rect x="407.0" y="188.4" width="7" height="7" fill="#10f040"/>
<rect x="420.1" y="188.4" width="7" height="7" fill="#0c10f8"/>
<rect x="414.5" y="190.1" width="7" height="7" fill="#10f0f8"/>
<rect x="427.6" y="190.6" width="7" height="7" fill="#10a8f8"/>
<rect x="437.7" y="189.7" width="7" height="7" fill="#10f0b0"/>
<rect x="407.0" y="194.1" width="7" height="7" fill="#10d8f8"/>
<rect x="407.0" y="199.8" width="7" height="7" fill="#10b8f8"/>
<rect x="412.3" y="198.0" width="7" height="7" fill="#20f020"/>
<rect x="424.5" y="199.3" width="7" height="7" fill="#10f060"/>
<rect x="421.9" y="204.1" width="7" height="7" fill="#1010f8"/>
<rect x="431.1" y="201.5" width="7" height="7" fill="#1010f8"/>
<rect x="434.2" y="204.1" width="7" height="7" fill="#10f0b0"/>
<rect x="440.3" y="202.8" width="7" height="7" fill="#1010f8"/>
<rect x="441.2" y="206.3" width="7" height="7" fill="#1010f8"/>
<rect x="446.0" y="199.8" width="7" height="7" fill="#10f0e0"/>
<rect x="415.3" y="201.1" width="7" height="7" fill="#a0f010"/>
<rect x="415.1" y="201.1" width="7" height="7" fill="#10f0c0"/>
<rect x="414.0" y="210.4" width="7" height="7" fill="#1010f8"/>
<rect x="421.0" y="209.5" width="7" height="7" fill="#1010f8"/>
<rect x="416.6" y="214.8" width="7" height="7" fill="#1010f8"/>
<rect x="406.1" y="210.8" width="7" height="7" fill="#10f030"/>
<rect x="410.9" y="217.4" width="7" height="7" fill="#10a8f8"/>
<rect x="433.7" y="212.6" width="7" height="7" fill="#10f0e0"/>
<rect x="439.4" y="208.6" width="7" height="7" fill="#1010f8"/>
</g>
<path d="M442.4 32.9L443.8 50.4L445.1 67.9L446.2 85.4L447.4 103.0L448.3 120.4L449.4 138.0L450.4 155.5L451.4 173.0L452.1 190.3" fill="none" stroke="#2748d6" stroke-width="1.4"/>
<text transform="translate(450.4 32.0) rotate(85)" font-family='"Liberation Sans", sans-serif' font-size="7.6" text-anchor="middle" dominant-baseline="central" fill="#26262c">45</text>
<text transform="translate(451.8 49.5) rotate(86)" font-family='"Liberation Sans", sans-serif' font-size="7.6" text-anchor="middle" dominant-baseline="central" fill="#26262c">40</text>
<text transform="translate(453.1 67.1) rotate(86)" font-family='"Liberation Sans", sans-serif' font-size="7.6" text-anchor="middle" dominant-baseline="central" fill="#26262c">35</text>
<text transform="translate(454.2 84.6) rotate(86)" font-family='"Liberation Sans", sans-serif' font-size="7.6" text-anchor="middle" dominant-baseline="central" fill="#26262c">30</text>
<text transform="translate(455.4 102.3) rotate(87)" font-family='"Liberation Sans", sans-serif' font-size="7.6" text-anchor="middle" dominant-baseline="central" fill="#26262c">25</text>
<text transform="translate(456.3 119.6) rotate(86)" font-family='"Liberation Sans", sans-serif' font-size="7.6" text-anchor="middle" dominant-baseline="central" fill="#26262c">20</text>
<text transform="translate(457.4 137.2) rotate(87)" font-family='"Liberation Sans", sans-serif' font-size="7.6" text-anchor="middle" dominant-baseline="central" fill="#26262c">15</text>
<text transform="translate(458.4 154.7) rotate(87)" font-family='"Liberation Sans", sans-serif' font-size="7.6" text-anchor="middle" dominant-baseline="central" fill="#26262c">10</text>
<text transform="translate(459.4 172.4) rotate(88)" font-family='"Liberation Sans", sans-serif' font-size="7.6" text-anchor="middle" dominant-baseline="central" fill="#26262c">5</text>
<text transform="translate(460.1 189.7) rotate(88)" font-family='"Liberation Sans", sans-serif' font-size="7.6" text-anchor="middle" dominant-baseline="central" fill="#26262c">0</text>
<path d="M437.8 33.3L446.2 32.6M439.2 50.7L447.6 50.1M440.5 68.2L448.9 67.7M441.6 85.7L450.0 85.1M442.8 103.2L451.2 102.8M443.7 120.7L452.1 120.2M444.8 138.3L453.2 137.8M445.8 155.8L454.2 155.3M446.8 173.2L455.2 172.8M447.5 190.5L455.9 190.1" fill="none" stroke="#2748d6" stroke-width="1"/>
<path d="M471.6 58.4L474.1 78.2L476.5 98.1L478.6 118.1L480.8 138.0L483.0 157.8L485.0 177.6L487.1 197.4L488.7 217.3L490.2 236.9" fill="none" stroke="#2748d6" stroke-width="1.4"/>
<text transform="translate(479.5 57.1) rotate(83)" font-family='"Liberation Sans", sans-serif' font-size="7.6" text-anchor="middle" dominant-baseline="central" fill="#26262c">45</text>
<text transform="translate(482.0 76.9) rotate(83)" font-family='"Liberation Sans", sans-serif' font-size="7.6" text-anchor="middle" dominant-baseline="central" fill="#26262c">40</text>
<text transform="translate(484.5 97.0) rotate(84)" font-family='"Liberation Sans", sans-serif' font-size="7.6" text-anchor="middle" dominant-baseline="central" fill="#26262c">35</text>
<text transform="translate(486.6 116.9) rotate(84)" font-family='"Liberation Sans", sans-serif' font-size="7.6" text-anchor="middle" dominant-baseline="central" fill="#26262c">30</text>
<text transform="translate(488.8 136.8) rotate(84)" font-family='"Liberation Sans", sans-serif' font-size="7.6" text-anchor="middle" dominant-baseline="central" fill="#26262c">25</text>
<text transform="translate(491.0 156.7) rotate(84)" font-family='"Liberation Sans", sans-serif' font-size="7.6" text-anchor="middle" dominant-baseline="central" fill="#26262c">20</text>
<text transform="translate(493.0 176.5) rotate(84)" font-family='"Liberation Sans", sans-serif' font-size="7.6" text-anchor="middle" dominant-baseline="central" fill="#26262c">15</text>
<text transform="translate(495.1 196.5) rotate(85)" font-family='"Liberation Sans", sans-serif' font-size="7.6" text-anchor="middle" dominant-baseline="central" fill="#26262c">10</text>
<text transform="translate(496.7 216.4) rotate(86)" font-family='"Liberation Sans", sans-serif' font-size="7.6" text-anchor="middle" dominant-baseline="central" fill="#26262c">5</text>
<text transform="translate(498.2 236.0) rotate(86)" font-family='"Liberation Sans", sans-serif' font-size="7.6" text-anchor="middle" dominant-baseline="central" fill="#26262c">0</text>
<path d="M467.0 59.0L475.4 57.9M469.5 78.8L477.9 77.7M471.9 98.6L480.3 97.7M474.0 118.6L482.4 117.7M476.2 138.5L484.6 137.6M478.4 158.3L486.8 157.4M480.4 178.1L488.8 177.2M482.5 197.8L490.9 197.1M484.1 217.7L492.5 217.0M485.6 237.3L494.0 236.6" fill="none" stroke="#2748d6" stroke-width="1"/>
<path d="M512.4 40.1L516.9 58.3L521.1 76.4L525.1 94.5L529.0 112.6L532.8 130.6L536.2 148.7L539.5 166.7L542.2 185.0L545.2 203.0" fill="none" stroke="#2748d6" stroke-width="1.4"/>
<text transform="translate(520.2 37.9) rotate(76)" font-family='"Liberation Sans", sans-serif' font-size="7.6" text-anchor="middle" dominant-baseline="central" fill="#26262c">45</text>
<text transform="translate(524.7 56.2) rotate(77)" font-family='"Liberation Sans", sans-serif' font-size="7.6" text-anchor="middle" dominant-baseline="central" fill="#26262c">40</text>
<text transform="translate(528.9 74.4) rotate(78)" font-family='"Liberation Sans", sans-serif' font-size="7.6" text-anchor="middle" dominant-baseline="central" fill="#26262c">35</text>
<text transform="translate(532.9 92.5) rotate(78)" font-family='"Liberation Sans", sans-serif' font-size="7.6" text-anchor="middle" dominant-baseline="central" fill="#26262c">30</text>
<text transform="translate(536.8 110.6) rotate(78)" font-family='"Liberation Sans", sans-serif' font-size="7.6" text-anchor="middle" dominant-baseline="central" fill="#26262c">25</text>
<text transform="translate(540.7 128.8) rotate(79)" font-family='"Liberation Sans", sans-serif' font-size="7.6" text-anchor="middle" dominant-baseline="central" fill="#26262c">20</text>
<text transform="translate(544.1 147.0) rotate(80)" font-family='"Liberation Sans", sans-serif' font-size="7.6" text-anchor="middle" dominant-baseline="central" fill="#26262c">15</text>
<text transform="translate(547.4 165.2) rotate(82)" font-family='"Liberation Sans", sans-serif' font-size="7.6" text-anchor="middle" dominant-baseline="central" fill="#26262c">10</text>
<text transform="translate(550.1 183.4) rotate(81)" font-family='"Liberation Sans", sans-serif' font-size="7.6" text-anchor="middle" dominant-baseline="central" fill="#26262c">5</text>
<text transform="translate(553.1 201.4) rotate(81)" font-family='"Liberation Sans", sans-serif' font-size="7.6" text-anchor="middle" dominant-baseline="central" fill="#26262c">0</text>
<path d="M507.9 41.2L516.1 39.2M512.4 59.3L520.6 57.4M516.6 77.4L524.8 75.6M520.6 95.5L528.8 93.7M524.5 113.6L532.7 111.8M528.3 131.5L536.5 129.9M531.7 149.5L539.9 148.0M534.9 167.4L543.2 166.1M537.6 185.8L545.9 184.4M540.6 203.8L548.9 202.4" fill="none" stroke="#2748d6" stroke-width="1"/>
<path d="M532.3 47.9L532.3 59.1" fill="none" stroke="#2748d6" stroke-width="1.4"/>
<text transform="translate(540.3 47.6) rotate(90)" font-family='"Liberation Sans", sans-serif' font-size="7.6" text-anchor="middle" dominant-baseline="central" fill="#26262c">5</text>
<text transform="translate(540.3 58.8) rotate(90)" font-family='"Liberation Sans", sans-serif' font-size="7.6" text-anchor="middle" dominant-baseline="central" fill="#26262c">0</text>
<path d="M527.7 47.9L536.1 47.9M527.7 59.1L536.1 59.1" fill="none" stroke="#2748d6" stroke-width="1"/>
<path d="M540.5 235L541 239.2" stroke="#2748d6" stroke-width="1.4"/>
<path d="M541.0 239.2L543.2 260.4" fill="none" stroke="#2748d6" stroke-width="1.4"/>
<text transform="translate(549.2 238.1) rotate(84)" font-family='"Liberation Sans", sans-serif' font-size="7.6" text-anchor="middle" dominant-baseline="central" fill="#26262c">5</text>
<text transform="translate(551.4 259.3) rotate(84)" font-family='"Liberation Sans", sans-serif' font-size="7.6" text-anchor="middle" dominant-baseline="central" fill="#26262c">0</text>
<path d="M536.4 239.7L544.8 238.8M538.6 260.9L547.0 260.0" fill="none" stroke="#2748d6" stroke-width="1"/>
<text x="377.80" y="29.50" font-family='"Liberation Sans", sans-serif' font-size="12.4" font-weight="bold" text-anchor="start" fill="#0c0c0c" textLength="63.80" lengthAdjust="spacingAndGlyphs">Sandstone</text>
<text x="509.10" y="30.00" font-family='"Liberation Sans", sans-serif' font-size="12.4" font-weight="bold" text-anchor="start" fill="#0c0c0c" textLength="63.00" lengthAdjust="spacingAndGlyphs">Limestone</text>
<text x="457.40" y="50.60" font-family='"Liberation Sans", sans-serif' font-size="12.4" font-weight="bold" text-anchor="start" fill="#0c0c0c" textLength="53.00" lengthAdjust="spacingAndGlyphs">Dolomite</text>
<text x="546.50" y="55.10" font-family='"Liberation Sans", sans-serif' font-size="9.6" font-weight="bold" text-anchor="start" fill="#0c0c0c" textLength="18.20" lengthAdjust="spacingAndGlyphs">Salt</text>
<text x="545.70" y="253.70" font-family='"Liberation Sans", sans-serif' font-size="12.4" font-weight="bold" text-anchor="start" fill="#0c0c0c" textLength="58.80" lengthAdjust="spacingAndGlyphs">Anhydrite</text>
<path d="M657.5999999999999 20.5V267.0H376.8" fill="none" stroke="#d0d0d0" stroke-width="1.2"/>
<rect x="374.8" y="18.5" width="281.49999999999994" height="247.2" rx="0.8" fill="none" stroke="#1e1e1e" stroke-width="1.5"/>
<rect x="638.4" y="22.4" width="13.8" height="13.2" fill="#fff" stroke="#333" stroke-width="0.9"/>
<text x="645.40" y="33.00" font-family='"Liberation Sans", sans-serif' font-size="11.8" font-weight="bold" text-anchor="middle" fill="#111">b</text>
<text x="399.60" y="13.60" font-family='"Liberation Serif", serif' font-size="12" font-weight="bold" text-anchor="middle" fill="#14141c">0</text>
<text x="396.50" y="278.30" font-family='"Liberation Sans", sans-serif' font-size="10.2" font-weight="bold" text-anchor="start" fill="#16161e" textLength="6.70" lengthAdjust="spacingAndGlyphs">0</text>
<text x="427.80" y="13.60" font-family='"Liberation Serif", serif' font-size="12" font-weight="bold" text-anchor="middle" fill="#14141c">1</text>
<text x="424.70" y="278.30" font-family='"Liberation Sans", sans-serif' font-size="10.2" font-weight="bold" text-anchor="start" fill="#16161e" textLength="6.70" lengthAdjust="spacingAndGlyphs">1</text>
<text x="456.00" y="13.60" font-family='"Liberation Serif", serif' font-size="12" font-weight="bold" text-anchor="middle" fill="#14141c">2</text>
<text x="452.90" y="278.30" font-family='"Liberation Sans", sans-serif' font-size="10.2" font-weight="bold" text-anchor="start" fill="#16161e" textLength="6.70" lengthAdjust="spacingAndGlyphs">2</text>
<text x="484.20" y="13.60" font-family='"Liberation Serif", serif' font-size="12" font-weight="bold" text-anchor="middle" fill="#14141c">3</text>
<text x="481.10" y="278.30" font-family='"Liberation Sans", sans-serif' font-size="10.2" font-weight="bold" text-anchor="start" fill="#16161e" textLength="6.70" lengthAdjust="spacingAndGlyphs">3</text>
<text x="512.40" y="13.60" font-family='"Liberation Serif", serif' font-size="12" font-weight="bold" text-anchor="middle" fill="#14141c">4</text>
<text x="509.30" y="278.30" font-family='"Liberation Sans", sans-serif' font-size="10.2" font-weight="bold" text-anchor="start" fill="#16161e" textLength="6.70" lengthAdjust="spacingAndGlyphs">4</text>
<text x="540.60" y="13.60" font-family='"Liberation Serif", serif' font-size="12" font-weight="bold" text-anchor="middle" fill="#14141c">5</text>
<text x="537.50" y="278.30" font-family='"Liberation Sans", sans-serif' font-size="10.2" font-weight="bold" text-anchor="start" fill="#16161e" textLength="6.70" lengthAdjust="spacingAndGlyphs">5</text>
<text x="568.80" y="13.60" font-family='"Liberation Serif", serif' font-size="12" font-weight="bold" text-anchor="middle" fill="#14141c">6</text>
<text x="565.70" y="278.30" font-family='"Liberation Sans", sans-serif' font-size="10.2" font-weight="bold" text-anchor="start" fill="#16161e" textLength="6.70" lengthAdjust="spacingAndGlyphs">6</text>
<text x="597.00" y="13.60" font-family='"Liberation Serif", serif' font-size="12" font-weight="bold" text-anchor="middle" fill="#14141c">7</text>
<text x="593.90" y="278.30" font-family='"Liberation Sans", sans-serif' font-size="10.2" font-weight="bold" text-anchor="start" fill="#16161e" textLength="6.70" lengthAdjust="spacingAndGlyphs">7</text>
<text x="625.20" y="13.60" font-family='"Liberation Serif", serif' font-size="12" font-weight="bold" text-anchor="middle" fill="#14141c">8</text>
<text x="622.10" y="278.30" font-family='"Liberation Sans", sans-serif' font-size="10.2" font-weight="bold" text-anchor="start" fill="#16161e" textLength="6.70" lengthAdjust="spacingAndGlyphs">8</text>
<text x="653.40" y="13.60" font-family='"Liberation Serif", serif' font-size="12" font-weight="bold" text-anchor="middle" fill="#14141c">9</text>
<text x="650.30" y="278.30" font-family='"Liberation Sans", sans-serif' font-size="10.2" font-weight="bold" text-anchor="start" fill="#16161e" textLength="6.70" lengthAdjust="spacingAndGlyphs">9</text>
<text x="351.76" y="35.35" font-family='"Liberation Serif", serif' font-size="11.8" font-weight="bold" text-anchor="start" fill="#14141c" textLength="16.54" lengthAdjust="spacingAndGlyphs">1.9</text>
<text x="659.80" y="35.35" font-family='"Liberation Serif", serif' font-size="11.8" font-weight="bold" text-anchor="start" fill="#14141c" textLength="16.54" lengthAdjust="spacingAndGlyphs">1.9</text>
<text x="361.94" y="56.45" font-family='"Liberation Serif", serif' font-size="11.8" font-weight="bold" text-anchor="start" fill="#14141c" textLength="6.36" lengthAdjust="spacingAndGlyphs">2</text>
<text x="659.80" y="56.45" font-family='"Liberation Serif", serif' font-size="11.8" font-weight="bold" text-anchor="start" fill="#14141c" textLength="6.36" lengthAdjust="spacingAndGlyphs">2</text>
<text x="351.76" y="77.55" font-family='"Liberation Serif", serif' font-size="11.8" font-weight="bold" text-anchor="start" fill="#14141c" textLength="16.54" lengthAdjust="spacingAndGlyphs">2.1</text>
<text x="659.80" y="77.55" font-family='"Liberation Serif", serif' font-size="11.8" font-weight="bold" text-anchor="start" fill="#14141c" textLength="16.54" lengthAdjust="spacingAndGlyphs">2.1</text>
<text x="351.76" y="98.65" font-family='"Liberation Serif", serif' font-size="11.8" font-weight="bold" text-anchor="start" fill="#14141c" textLength="16.54" lengthAdjust="spacingAndGlyphs">2.2</text>
<text x="659.80" y="98.65" font-family='"Liberation Serif", serif' font-size="11.8" font-weight="bold" text-anchor="start" fill="#14141c" textLength="16.54" lengthAdjust="spacingAndGlyphs">2.2</text>
<text x="351.76" y="119.75" font-family='"Liberation Serif", serif' font-size="11.8" font-weight="bold" text-anchor="start" fill="#14141c" textLength="16.54" lengthAdjust="spacingAndGlyphs">2.3</text>
<text x="659.80" y="119.75" font-family='"Liberation Serif", serif' font-size="11.8" font-weight="bold" text-anchor="start" fill="#14141c" textLength="16.54" lengthAdjust="spacingAndGlyphs">2.3</text>
<text x="351.76" y="140.85" font-family='"Liberation Serif", serif' font-size="11.8" font-weight="bold" text-anchor="start" fill="#14141c" textLength="16.54" lengthAdjust="spacingAndGlyphs">2.4</text>
<text x="659.80" y="140.85" font-family='"Liberation Serif", serif' font-size="11.8" font-weight="bold" text-anchor="start" fill="#14141c" textLength="16.54" lengthAdjust="spacingAndGlyphs">2.4</text>
<text x="351.76" y="161.95" font-family='"Liberation Serif", serif' font-size="11.8" font-weight="bold" text-anchor="start" fill="#14141c" textLength="16.54" lengthAdjust="spacingAndGlyphs">2.5</text>
<text x="659.80" y="161.95" font-family='"Liberation Serif", serif' font-size="11.8" font-weight="bold" text-anchor="start" fill="#14141c" textLength="16.54" lengthAdjust="spacingAndGlyphs">2.5</text>
<text x="351.76" y="183.05" font-family='"Liberation Serif", serif' font-size="11.8" font-weight="bold" text-anchor="start" fill="#14141c" textLength="16.54" lengthAdjust="spacingAndGlyphs">2.6</text>
<text x="659.80" y="183.05" font-family='"Liberation Serif", serif' font-size="11.8" font-weight="bold" text-anchor="start" fill="#14141c" textLength="16.54" lengthAdjust="spacingAndGlyphs">2.6</text>
<text x="351.76" y="204.15" font-family='"Liberation Serif", serif' font-size="11.8" font-weight="bold" text-anchor="start" fill="#14141c" textLength="16.54" lengthAdjust="spacingAndGlyphs">2.7</text>
<text x="659.80" y="204.15" font-family='"Liberation Serif", serif' font-size="11.8" font-weight="bold" text-anchor="start" fill="#14141c" textLength="16.54" lengthAdjust="spacingAndGlyphs">2.7</text>
<text x="351.76" y="225.25" font-family='"Liberation Serif", serif' font-size="11.8" font-weight="bold" text-anchor="start" fill="#14141c" textLength="16.54" lengthAdjust="spacingAndGlyphs">2.8</text>
<text x="659.80" y="225.25" font-family='"Liberation Serif", serif' font-size="11.8" font-weight="bold" text-anchor="start" fill="#14141c" textLength="16.54" lengthAdjust="spacingAndGlyphs">2.8</text>
<text x="351.76" y="246.35" font-family='"Liberation Serif", serif' font-size="11.8" font-weight="bold" text-anchor="start" fill="#14141c" textLength="16.54" lengthAdjust="spacingAndGlyphs">2.9</text>
<text x="659.80" y="246.35" font-family='"Liberation Serif", serif' font-size="11.8" font-weight="bold" text-anchor="start" fill="#14141c" textLength="16.54" lengthAdjust="spacingAndGlyphs">2.9</text>
<text x="361.94" y="267.45" font-family='"Liberation Serif", serif' font-size="11.8" font-weight="bold" text-anchor="start" fill="#14141c" textLength="6.36" lengthAdjust="spacingAndGlyphs">3</text>
<text x="659.80" y="267.45" font-family='"Liberation Serif", serif' font-size="11.8" font-weight="bold" text-anchor="start" fill="#14141c" textLength="6.36" lengthAdjust="spacingAndGlyphs">3</text>
<text transform="translate(343.5 142.2) rotate(-90)" font-family='"Liberation Sans", sans-serif' font-size="10.6" font-weight="bold" text-anchor="middle" fill="#16161e" textLength="80.7" lengthAdjust="spacingAndGlyphs">RHOB (g/cm3)</text>
<text x="493.90" y="294.50" font-family='"Liberation Sans", sans-serif' font-size="10.2" font-weight="bold" text-anchor="start" fill="#16161e" textLength="51.00" lengthAdjust="spacingAndGlyphs">PEF(b/e)</text>
<rect x="374.2" y="303.0" width="283.8" height="11.9" fill="url(#rb)" stroke="#151515" stroke-width="1"/>
<text x="468.80" y="312.90" font-family='"Liberation Sans", sans-serif' font-size="10.2" font-weight="bold" text-anchor="start" fill="#0a0a2a" textLength="92.00" lengthAdjust="spacingAndGlyphs">Gamma ray (GR)</text>
<text x="364.70" y="312.70" font-family='"Liberation Serif", serif' font-size="11.5" font-weight="bold" text-anchor="start" fill="#111" textLength="6.50" lengthAdjust="spacingAndGlyphs">0</text>
<text x="661.60" y="312.70" font-family='"Liberation Serif", serif' font-size="11.5" font-weight="bold" text-anchor="start" fill="#111" textLength="19.40" lengthAdjust="spacingAndGlyphs">200</text>
</svg>
</body></html>
